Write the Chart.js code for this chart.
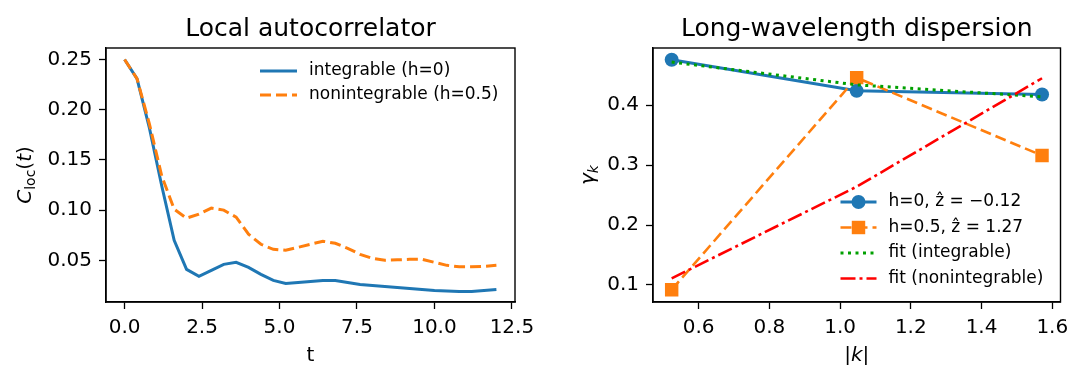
<!DOCTYPE html>
<html><head><meta charset="utf-8">
<script src="https://cdn.jsdelivr.net/npm/chart.js@4.4.1/dist/chart.umd.min.js"></script>
<style>
html,body{margin:0;padding:0;background:#fff;}
#wrap{position:relative;width:1070px;height:365px;overflow:hidden;background:#fff;}
canvas{position:absolute;top:0;}
</style></head><body>
<div id="wrap">
<canvas id="c1" width="535" height="365" style="left:0px"></canvas>
<canvas id="c2" width="535" height="365" style="left:535px"></canvas>
</div>
<script>
// ---------- data: left panel ----------
const tValues = [0,0.4,0.8,1.2,1.6,2.0,2.4,2.8,3.2,3.6,4.0,4.4,4.8,5.2,5.6,6.0,6.4,6.8,7.2,7.6,8.0,8.4,8.8,9.2,9.6,10.0,10.4,10.8,11.2,11.6,12.0];
const integrableC = [0.250,0.231,0.182,0.124,0.070,0.041,0.034,0.040,0.046,0.048,0.043,0.036,0.030,0.027,0.028,0.029,0.030,0.030,0.028,0.026,0.025,0.024,0.023,0.022,0.021,0.020,0.0195,0.019,0.019,0.020,0.021];
const nonintegrableC = [0.250,0.231,0.186,0.134,0.101,0.092,0.096,0.102,0.100,0.093,0.076,0.066,0.061,0.060,0.063,0.066,0.069,0.067,0.062,0.056,0.052,0.050,0.0505,0.051,0.051,0.048,0.045,0.0435,0.0435,0.044,0.045];
const leftXTicks = [0.0,2.5,5.0,7.5,10.0,12.5];
const leftYTicks = [0.05,0.10,0.15,0.20,0.25];

// ---------- data: right panel ----------
const kValues = [0.524,1.047,1.571];
const gammaH0 = [0.476,0.424,0.418];
const gammaH05 = [0.092,0.446,0.316];
const fitIntegrable = [0.472,0.434,0.414];
const fitNonintegrable = [0.111,0.264,0.445];
const rightXTicks = [0.6,0.8,1.0,1.2,1.4,1.6];
const rightYTicks = [0.1,0.2,0.3,0.4];

Chart.defaults.font.family = "'DejaVu Sans'";
Chart.defaults.color = '#000';

const pts = (xs, ys) => xs.map((x, i) => ({x: x, y: ys[i]}));

function axis(min, max, tickArr, dec, isX, size) {
  return {
    type: 'linear', min: min, max: max,
    afterBuildTicks: s => { s.ticks = tickArr.map(v => ({value: v})); },
    afterFit: s => {
      if (isX) { s.height = size; s.paddingLeft = 0; s.paddingRight = 0; }
      else { s.width = size; s.paddingTop = 0; s.paddingBottom = 0; }
    },
    ticks: { callback: v => Number(v).toFixed(dec), font: {size: 20}, color: '#000',
             padding: isX ? 7 : 7, maxRotation: 0, autoSkip: false },
    grid: { drawOnChartArea: false, drawTicks: true, tickLength: 7, tickColor: '#000', tickWidth: 1.3 },
    border: { display: true, color: '#000', width: 1.4 }
  };
}

function drawRich(ctx, segs, x, y, rotate) {
  ctx.save();
  ctx.translate(x, y);
  if (rotate) ctx.rotate(-Math.PI / 2);
  let w = 0;
  segs.forEach(s => { ctx.font = s.font; s.w = ctx.measureText(s.t).width; w += s.w; });
  let cx = -w / 2;
  ctx.textBaseline = 'alphabetic'; ctx.textAlign = 'left'; ctx.fillStyle = '#000';
  segs.forEach(s => { ctx.font = s.font; ctx.fillText(s.t, cx, s.dy || 0); cx += s.w; });
  ctx.restore();
}

const framePlugin = {
  id: 'frame',
  afterDatasetsDraw(chart) {
    const a = chart.chartArea, ctx = chart.ctx;
    ctx.save(); ctx.strokeStyle = '#000'; ctx.lineWidth = 1.4;
    ctx.strokeRect(a.left, a.top, a.right - a.left, a.bottom - a.top);
    ctx.restore();
  }
};

const legendPlugin = {
  id: 'innerLegend',
  afterDraw(chart, args, o) {
    if (!o || !o.items) return;
    const ctx = chart.ctx, a = chart.chartArea;
    ctx.save();
    o.items.forEach((it, i) => {
      const ds = chart.data.datasets[it.ds];
      const y = a.top + o.y0 + i * o.dy;
      const x0 = a.right - o.x0, x1 = a.right - o.x1;
      ctx.save();
      ctx.strokeStyle = ds.borderColor; ctx.lineWidth = ds.borderWidth;
      ctx.setLineDash(ds.borderDash || []);
      ctx.beginPath(); ctx.moveTo(x0, y); ctx.lineTo(x1, y); ctx.stroke();
      ctx.restore();
      if (ds.pointRadius > 0) {
        ctx.save(); ctx.fillStyle = ds.pointBackgroundColor;
        Chart.helpers.drawPoint(ctx, {pointStyle: ds.pointStyle, radius: ds.pointRadius, borderWidth: 0, rotation: 0}, (x0 + x1) / 2, y);
        ctx.restore();
      }
      ctx.font = "17px 'DejaVu Sans'"; ctx.fillStyle = '#000';
      ctx.textBaseline = 'middle'; ctx.textAlign = 'left';
      ctx.fillText(it.text, a.right - o.tx, y);
    });
    ctx.restore();
  }
};

const labelPlugin = {
  id: 'axisLabels',
  afterDraw(chart, args, o) {
    if (!o || !o.x) return;
    const ctx = chart.ctx, a = chart.chartArea;
    const cx = (a.left + a.right) / 2;
    drawRich(ctx, [{t: o.title, font: "25px 'DejaVu Sans'"}], cx, o.titleBase, false);
    drawRich(ctx, o.x, cx, o.xBase, false);
    drawRich(ctx, o.y, o.yBase, (a.top + a.bottom) / 2, true);
  }
};

const IT = "italic 20px 'DejaVu Sans'", RM = "20px 'DejaVu Sans'", SUB = "14px 'DejaVu Sans'", SUBI = "italic 14px 'DejaVu Sans'";

function baseOptions(padRight, legendOpts, labelOpts, xs, ys) {
  return {
    responsive: false, animation: false, devicePixelRatio: 1,
    layout: { padding: { left: 0, right: padRight, top: 48, bottom: 0 } },
    scales: { x: xs, y: ys },
    plugins: {
      legend: { display: false }, tooltip: { enabled: false }, title: { display: false },
      innerLegend: legendOpts, axisLabels: labelOpts
    }
  };
}

new Chart(document.getElementById('c1'), {
  type: 'line',
  data: { datasets: [
    { label: 'nonintegrable (h=0.5)', data: pts(tValues, nonintegrableC), borderColor: '#ff7f0e', borderWidth: 3,
      borderDash: [11, 5], pointRadius: 0, tension: 0, fill: false, order: 1 },
    { label: 'integrable (h=0)', data: pts(tValues, integrableC), borderColor: '#1f77b4', borderWidth: 3,
      pointRadius: 0, tension: 0, fill: false, order: 2 }
  ]},
  options: baseOptions(20,
    { items: [ {ds: 1, text: 'integrable (h=0)'}, {ds: 0, text: 'nonintegrable (h=0.5)'} ],
      x0: 255, x1: 218, tx: 206, y0: 23, dy: 24 },
    { title: 'Local autocorrelator', titleBase: 36,
      x: [{t: 't', font: RM}], xBase: 361,
      y: [{t: 'C', font: IT}, {t: 'loc', font: SUB, dy: 4}, {t: '(', font: RM}, {t: 't', font: IT}, {t: ')', font: RM}], yBase: 31 },
    axis(-0.6, 12.6, leftXTicks, 1, true, 63),
    axis(0.0085, 0.2615, leftYTicks, 2, false, 106)),
  plugins: [framePlugin, legendPlugin, labelPlugin]
});

new Chart(document.getElementById('c2'), {
  type: 'line',
  data: { datasets: [
    { label: 'fit (nonintegrable)', data: pts(kValues, fitNonintegrable), borderColor: '#ff0000', borderWidth: 2.6,
      borderDash: [15, 4, 3, 4], pointRadius: 0, tension: 0, fill: false, order: 1 },
    { label: 'fit (integrable)', data: pts(kValues, fitIntegrable), borderColor: '#00a000', borderWidth: 3,
      borderDash: [3, 4.5], pointRadius: 0, tension: 0, fill: false, order: 2 },
    { label: 'h=0.5, ẑ = 1.27', data: pts(kValues, gammaH05), borderColor: '#ff7f0e', borderWidth: 2.6,
      borderDash: [11, 5], pointStyle: 'rect', pointRadius: 9.5, pointBackgroundColor: '#ff7f0e',
      pointBorderWidth: 0, tension: 0, fill: false, order: 3 },
    { label: 'h=0, ẑ = −0.12', data: pts(kValues, gammaH0), borderColor: '#1f77b4', borderWidth: 3,
      pointStyle: 'circle', pointRadius: 7, pointBackgroundColor: '#1f77b4',
      pointBorderWidth: 0, tension: 0, fill: false, order: 4 }
  ]},
  options: baseOptions(8,
    { items: [ {ds: 3, text: 'h=0, ẑ = −0.12'}, {ds: 2, text: 'h=0.5, ẑ = 1.27'},
               {ds: 1, text: 'fit (integrable)'}, {ds: 0, text: 'fit (nonintegrable)'} ],
      x0: 220, x1: 184, tx: 172, y0: 154, dy: 25.5 },
    { title: 'Long-wavelength dispersion', titleBase: 36,
      x: [{t: '|', font: RM}, {t: 'k', font: IT}, {t: '|', font: RM}], xBase: 361,
      y: [{t: 'γ', font: IT}, {t: 'k', font: SUBI, dy: 4}], yBase: 59 },
    axis(0.4712, 1.6232, rightXTicks, 1, true, 63),
    axis(0.0715, 0.4955, rightYTicks, 1, false, 118)),
  plugins: [framePlugin, legendPlugin, labelPlugin]
});
</script>
</body></html>
